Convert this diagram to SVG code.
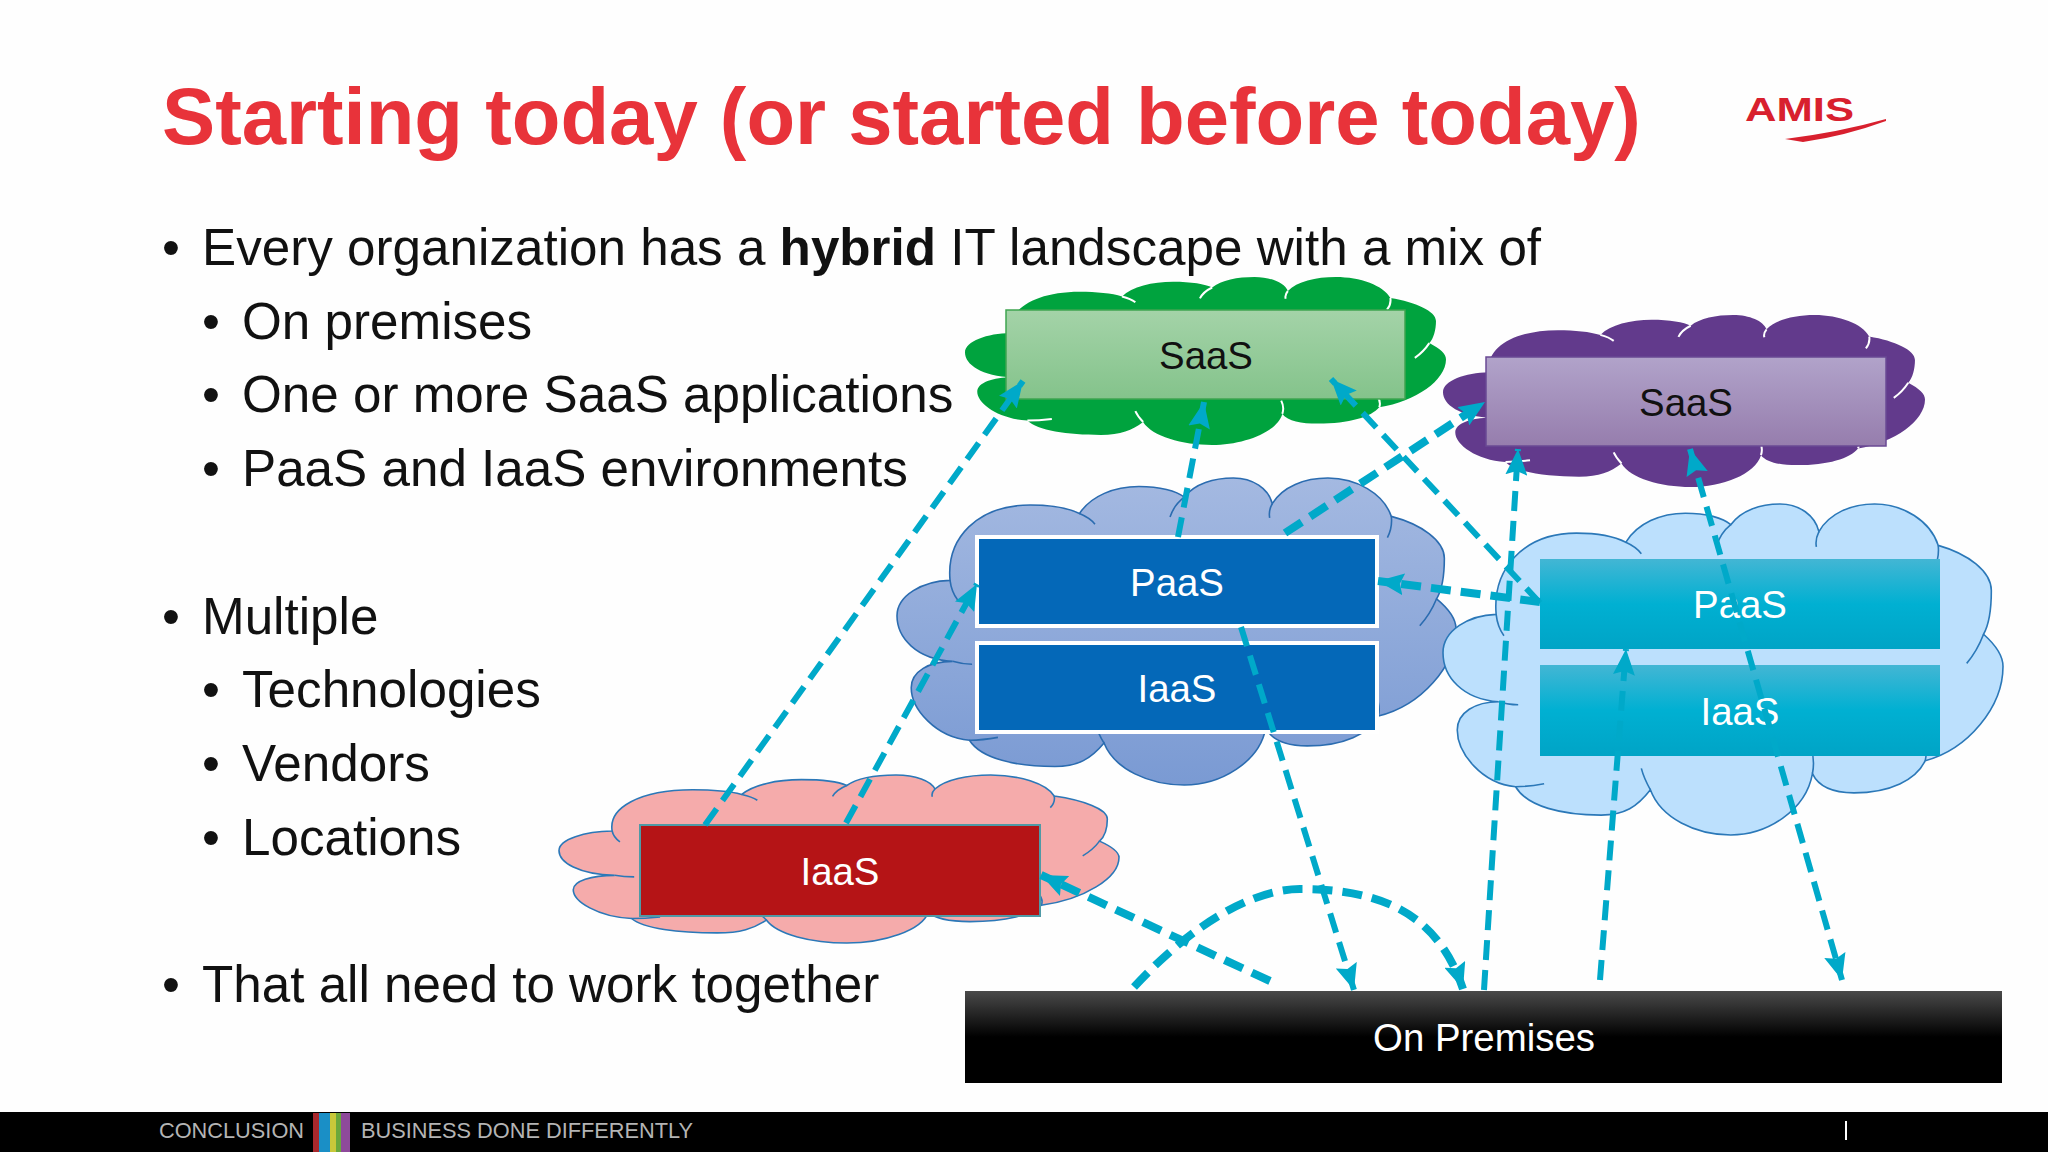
<svg xmlns="http://www.w3.org/2000/svg" width="2048" height="1152" viewBox="0 0 2048 1152">
<style>
text{font-family:"Liberation Sans",Arial,sans-serif}
.title{font-size:79.7px;font-weight:700;fill:#e8333a}
.body{font-size:51.2px;fill:#111}
.lbl{font-size:38.4px;text-anchor:middle}
.w{fill:#fff}.k{fill:#111}
.foot{font-size:22px;fill:#b4b4b4}
.shape{vector-effect:non-scaling-stroke}
.inner{fill:none;vector-effect:non-scaling-stroke}
.conn{fill:none;stroke:#00a9c9;stroke-width:6;stroke-dasharray:20 10}
.thick{stroke-width:8}
</style>
<defs>
<symbol id="cloud" viewBox="0 0 432 432" preserveAspectRatio="none" overflow="visible"><path class="shape" d="M41,144 C38,85 62,38 103,38 C118,38 132,42 141,50 C150,25 168,12 187,12 C203,12 216,18 222,27 C230,8 245,0 260,0 C275,0 287,15 290,36 C298,12 315,0 333,0 C355,0 376,22 382,54 C405,65 423,88 423,113 C423,135 421,158 417,170 C427,185 432,198 432,212 C432,265 405,320 372,335 C365,360 345,377 317,377 C302,377 290,370 285,352 C280,400 250,432 222,432 C195,432 168,410 160,373 C150,395 140,406 122,406 C92,406 65,395 56,369 C30,365 11,325 11,295 C11,272 25,258 43,258 C15,255 0,225 0,194 C0,165 20,145 41,144 Z"/></symbol>
<symbol id="inner" viewBox="0 0 432 432" preserveAspectRatio="none" overflow="visible"><path class="inner" d="M141,50 Q149,56 153,65 M222,27 Q214,38 211,55 M290,36 Q287,46 288,56 M382,54 Q383,70 379,84 M417,170 Q412,192 404,208 M372,335 Q374,322 370,305 M285,352 Q287,335 284,318 M160,373 Q155,358 153,345 M56,369 Q66,369 78,365 M43,258 Q50,262 58,262 M41,144 Q42,160 47,172"/></symbol>
<linearGradient id="gBlue" x1="0" y1="0" x2="0" y2="1"><stop offset="0" stop-color="#a4b9e1"/><stop offset="1" stop-color="#7a9ad3"/></linearGradient>
<linearGradient id="gGreen" x1="0" y1="0" x2="0" y2="1"><stop offset="0" stop-color="#a4d3a8"/><stop offset="1" stop-color="#84c38b"/></linearGradient>
<linearGradient id="gPurple" x1="0" y1="0" x2="0" y2="1"><stop offset="0" stop-color="#b1a3ca"/><stop offset="1" stop-color="#967dad"/></linearGradient>
<linearGradient id="gTeal" x1="0" y1="0" x2="0" y2="1"><stop offset="0" stop-color="#43b6d4"/><stop offset=".5" stop-color="#00b0d2"/><stop offset="1" stop-color="#00a4c6"/></linearGradient>
<linearGradient id="gBlack" x1="0" y1="0" x2="0" y2="1"><stop offset="0" stop-color="#4a4a4a"/><stop offset=".5" stop-color="#000"/><stop offset="1" stop-color="#000"/></linearGradient>
<marker id="arr" viewBox="0 0 26 22" refX="26" refY="11" markerWidth="26" markerHeight="22" markerUnits="userSpaceOnUse" orient="auto-start-reverse"><path d="M0,0 L26,11 L0,22 L4,11 Z" fill="#00a9c9"/></marker>
</defs>
<rect width="2048" height="1152" fill="#fefefe"/>
<g id="title"><text class="title" x="162" y="144">Starting today (or started before today)</text></g>
<g id="logo">
<text x="1745" y="121" font-size="33" font-weight="700" fill="#d8202e" textLength="109" lengthAdjust="spacingAndGlyphs">AMIS</text>
<path d="M1785,139 Q1840,132 1886,119 L1886,121 Q1845,136 1803,142 Z" fill="#d8202e"/>
</g>
<g id="bullets">
<text class="body" x="162" y="265">•</text><text class="body" x="202" y="265">Every organization has a <tspan font-weight="700">hybrid</tspan> IT landscape with a mix of</text>
<text class="body" x="202" y="339">•</text><text class="body" x="242" y="339">On premises</text>
<text class="body" x="202" y="412">•</text><text class="body" x="242" y="412">One or more SaaS applications</text>
<text class="body" x="202" y="486">•</text><text class="body" x="242" y="486">PaaS and IaaS environments</text>
<text class="body" x="162" y="634">•</text><text class="body" x="202" y="634">Multiple</text>
<text class="body" x="202" y="707">•</text><text class="body" x="242" y="707">Technologies</text>
<text class="body" x="202" y="781">•</text><text class="body" x="242" y="781">Vendors</text>
<text class="body" x="202" y="855">•</text><text class="body" x="242" y="855">Locations</text>
<text class="body" x="162" y="1002">•</text><text class="body" x="202" y="1002">That all need to work together</text>
</g>
<g id="cloud-green">
<use href="#cloud" x="965" y="277" width="481" height="168" fill="#00a33e"/>
<use href="#inner" x="965" y="277" width="481" height="168" stroke="#ffffff" stroke-width="2"/>
</g>
<g id="saas-green"><rect x="1006" y="310" width="399" height="89" fill="url(#gGreen)" stroke="#3fa550" stroke-width="1.5"/><text class="lbl k" x="1206" y="369">SaaS</text></g>
<g id="cloud-purple">
<use href="#cloud" x="1443" y="315" width="482" height="172" fill="#623a8c"/>
<use href="#inner" x="1443" y="315" width="482" height="172" stroke="#ffffff" stroke-width="2"/>
</g>
<g id="saas-purple"><rect x="1486" y="357" width="400" height="89" fill="url(#gPurple)" stroke="#6a4a94" stroke-width="1.5"/><text class="lbl k" x="1686" y="416">SaaS</text></g>
<g id="cloud-blue">
<use href="#cloud" x="897" y="478" width="559" height="307" fill="url(#gBlue)" stroke="#2b6cb0" stroke-width="1.6"/>
<use href="#inner" x="897" y="478" width="559" height="307" stroke="#2b6cb0" stroke-width="1.6"/>
</g>
<g id="paas-blue"><rect x="977" y="537" width="400" height="89" fill="#0468b8" stroke="#fff" stroke-width="4"/><text class="lbl w" x="1177" y="596">PaaS</text></g>
<g id="iaas-blue"><rect x="977" y="643" width="400" height="89" fill="#0468b8" stroke="#fff" stroke-width="4"/><text class="lbl w" x="1177" y="702">IaaS</text></g>
<g id="cloud-light">
<use href="#cloud" x="1443" y="504" width="560" height="331" fill="#bce0fd" stroke="#2b78b8" stroke-width="1.6"/>
<use href="#inner" x="1443" y="504" width="560" height="331" stroke="#2b78b8" stroke-width="1.6"/>
</g>
<g id="paas-teal"><rect x="1540" y="559" width="400" height="90" fill="url(#gTeal)"/><text class="lbl w" x="1740" y="618">PaaS</text></g>
<g id="iaas-teal"><rect x="1540" y="665" width="400" height="91" fill="url(#gTeal)"/><text class="lbl w" x="1740" y="725">IaaS</text></g>
<g id="cloud-pink">
<use href="#cloud" x="559" y="775" width="560" height="168" fill="#f5abab" stroke="#2b78b8" stroke-width="1.6"/>
<use href="#inner" x="559" y="775" width="560" height="168" stroke="#2b78b8" stroke-width="1.6"/>
</g>
<g id="iaas-red"><rect x="640" y="825" width="400" height="91" fill="#b51416" stroke="#4f9aa6" stroke-width="2"/><text class="lbl w" x="840" y="885">IaaS</text></g>
<g id="onprem"><rect x="965" y="991" width="1037" height="92" fill="url(#gBlack)"/><text class="lbl w" x="1484" y="1051">On Premises</text></g>
<g id="connectors">
<path class="conn" marker-end="url(#arr)" d="M705,825 L1023,381"/>
<path class="conn" marker-end="url(#arr)" d="M846,823 L977,584"/>
<path class="conn" marker-end="url(#arr)" d="M1178,537 L1204,402"/>
<path class="conn thick" marker-end="url(#arr)" d="M1285,533 L1485,402"/>
<path class="conn" marker-end="url(#arr)" d="M1540,603 L1331,379"/>
<path class="conn thick" marker-end="url(#arr)" d="M1540,602 L1378,581"/>
<path class="conn" marker-end="url(#arr)" d="M1241,627 L1354,990"/>
<path class="conn" marker-end="url(#arr)" d="M1484,990 L1518,449"/>
<path class="conn" marker-end="url(#arr)" d="M1600,980 L1626,649"/>
<path class="conn" marker-start="url(#arr)" marker-end="url(#arr)" d="M1690,449 L1842,980"/>
<path class="conn thick" marker-end="url(#arr)" d="M1270,981 L1041,875"/>
<path class="conn thick" marker-end="url(#arr)" d="M1134,987 C1210,905 1270,889 1300,889 C1390,889 1440,920 1463,989"/>
</g>
<g id="footer">
<rect y="1112" width="2048" height="40" fill="#000"/>
<text class="foot" x="159" y="1138" textLength="145" lengthAdjust="spacingAndGlyphs">CONCLUSION</text>
<rect x="313" y="1113" width="6" height="39" fill="#a8282c"/>
<rect x="319" y="1113" width="11" height="39" fill="#1a8fc6"/>
<rect x="330" y="1113" width="6" height="39" fill="#c8c83a"/>
<rect x="336" y="1113" width="5" height="39" fill="#6aa83c"/>
<rect x="341" y="1113" width="9" height="39" fill="#8e4a9a"/>
<text class="foot" x="361" y="1138" textLength="332" lengthAdjust="spacingAndGlyphs">BUSINESS DONE DIFFERENTLY</text>
<rect x="1845" y="1121" width="2" height="19" fill="#fff"/>
</g>
</svg>
